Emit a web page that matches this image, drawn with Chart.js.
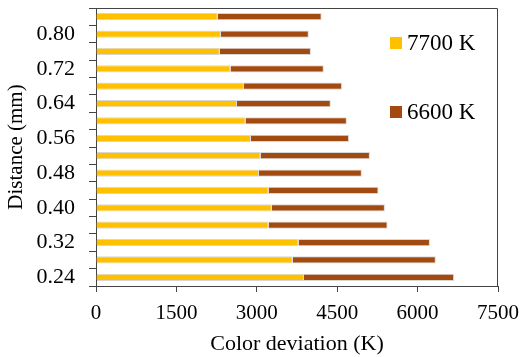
<!DOCTYPE html>
<html>
<head>
<meta charset="utf-8">
<script src="https://cdn.jsdelivr.net/npm/chart.js@4/dist/chart.umd.min.js"></script>
<style>
  html, body { margin: 0; padding: 0; background: #fff; }
  #wrap { width: 524px; height: 357px; }
</style>
</head>
<body>
<div id="wrap"><canvas id="chart" width="524" height="357"></canvas></div>
<script>
// Distance (mm), bottom to top
const distances = ['0.24', '0.28', '0.32', '0.36', '0.40', '0.44', '0.48', '0.52',
                   '0.56', '0.60', '0.64', '0.68', '0.72', '0.76', '0.80', '0.84'];
// 7700 K segment (K)
const dev7700 = [3880, 3670, 3780, 3220, 3280, 3220, 3040, 3070,
                 2890, 2790, 2630, 2760, 2510, 2310, 2330, 2270];
// 6600 K segment (K), stacked on top of 7700 K
const dev6600 = [2800, 2670, 2450, 2220, 2110, 2050, 1920, 2040,
                 1830, 1890, 1750, 1830, 1740, 1700, 1640, 1940];
const xTicks = [0, 1500, 3000, 4500, 6000, 7500];

const serif = "'Liberation Serif', 'Times New Roman', serif";

// box around the plot area
const frame = {
  id: 'frame',
  afterDraw(chart) {
    const a = chart.chartArea, c = chart.ctx;
    c.save();
    c.strokeStyle = '#444';
    c.lineWidth = 1;
    c.beginPath();
    c.moveTo(a.left, a.top + 0.5);
    c.lineTo(a.right - 0.5, a.top + 0.5);
    c.lineTo(a.right - 0.5, a.bottom);
    c.stroke();
    c.restore();
  }
};

// legend drawn inside the plot, right side
const innerLegend = {
  id: 'innerLegend',
  afterDraw(chart) {
    const c = chart.ctx;
    const rows = [43, 112];
    c.save();
    c.font = '23px ' + serif;
    c.textBaseline = 'middle';
    chart.data.datasets.forEach((ds, i) => {
      const y = rows[i];
      c.fillStyle = ds.backgroundColor;
      c.fillRect(390, y - 6, 12, 12);
      c.fillStyle = '#000';
      c.fillText(ds.label, 407, y + 1);
    });
    c.restore();
  }
};

new Chart(document.getElementById('chart'), {
  type: 'bar',
  data: {
    labels: distances,
    datasets: [
      { label: '7700 K', data: dev7700, backgroundColor: '#FFC000' },
      { label: '6600 K', data: dev6600, backgroundColor: '#A24A0F' }
    ]
  },
  options: {
    indexAxis: 'y',
    responsive: false,
    animation: false,
    layout: { padding: { left: 4, right: 26, top: 8, bottom: 0 } },
    datasets: { bar: { barPercentage: 0.42, categoryPercentage: 1,
                       borderWidth: 1, borderColor: 'rgba(0,0,0,0.16)' } },
    plugins: {
      legend: { display: false },
      tooltip: { enabled: false }
    },
    scales: {
      x: {
        stacked: true,
        min: 0,
        max: 7500,
        afterBuildTicks: s => { s.ticks = xTicks.map(v => ({ value: v })); },
        ticks: { color: '#000', font: { family: serif, size: 21 }, padding: 9,
                 maxRotation: 0, callback: v => String(v) },
        grid: { drawOnChartArea: false, tickLength: 6, color: '#444' },
        border: { color: '#444' },
        title: { display: true, text: 'Color deviation (K)', color: '#000',
                 font: { family: serif, size: 22 }, padding: 0 },
        afterFit: s => { s.height = 71; s.paddingLeft = 0; s.paddingRight = 0; }
      },
      y: {
        stacked: true,
        reverse: true,
        ticks: {
          autoSkip: false,
          color: '#000',
          font: { family: serif, size: 22 },
          padding: 14,
          callback: (v, i) => (i % 2 === 0 ? distances[i] : '')
        },
        grid: { offset: true, drawOnChartArea: false, tickLength: 7, color: '#444' },
        border: { color: '#444' },
        title: { display: true, text: 'Distance (mm)', color: '#000',
                 font: { family: serif, size: 21 }, padding: 0 },
        afterFit: s => { s.width = 92; s.paddingTop = 0; s.paddingBottom = 0; }
      }
    }
  },
  plugins: [frame, innerLegend]
});
</script>
</body>
</html>
